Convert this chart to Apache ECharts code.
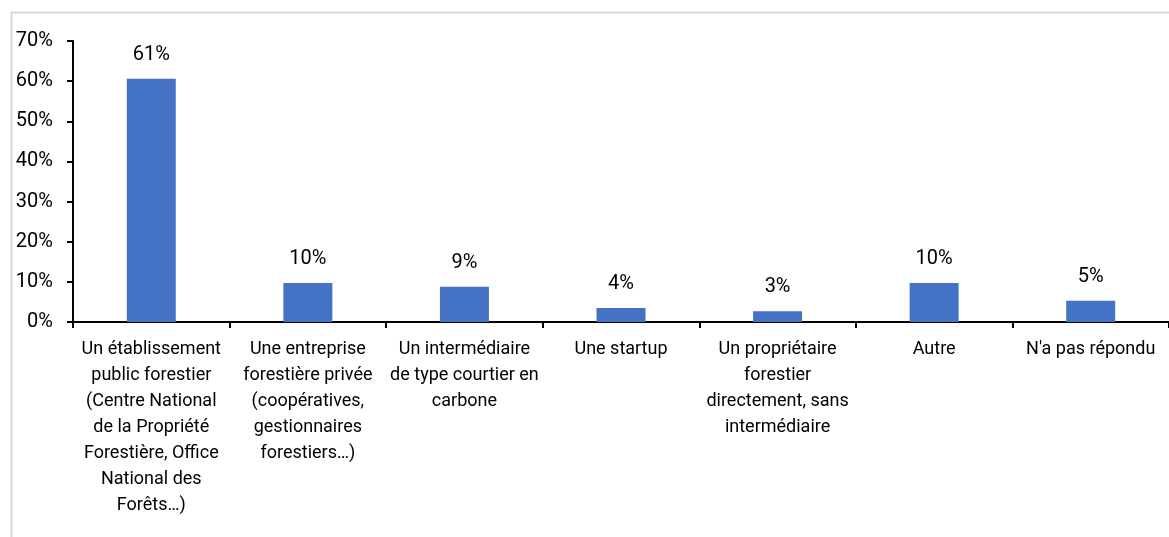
<!DOCTYPE html>
<html><head><meta charset="utf-8">
<script src="https://cdn.jsdelivr.net/npm/echarts@6/dist/echarts.min.js"></script>
<style>html,body{margin:0;padding:0;background:#fff}#c{width:1169px;height:537px}</style>
</head><body><div id="c"></div>
<script>
const categories = [
  "Un établissement\npublic forestier\n(Centre National\nde la Propriété\nForestière, Office\nNational des\nForêts…)",
  "Une entreprise\nforestière privée\n(coopératives,\ngestionnaires\nforestiers…)",
  "Un intermédiaire\nde type courtier en\ncarbone",
  "Une startup",
  "Un propriétaire\nforestier\ndirectement, sans\nintermédiaire",
  "Autre",
  "N'a pas répondu"
];
const values = [60.6, 9.7, 8.8, 3.5, 2.7, 9.7, 5.3];
const labels = ["61%", "10%", "9%", "4%", "3%", "10%", "5%"];
const yTicks = [0, 10, 20, 30, 40, 50, 60, 70];

const FONT = 'Roboto, "Noto Sans", sans-serif';
const chart = echarts.init(document.getElementById('c'), null, {renderer: 'canvas'});
chart.setOption({
  animation: false,
  backgroundColor: '#fff',
  graphic: [{
    type: 'rect', left: 9, top: 10, z: -1,
    shape: {width: 1200, height: 600},
    style: {fill: 'none', stroke: '#d9d9d9', lineWidth: 2}
  }],
  grid: {left: 73, width: 1105, top: 41, bottom: 215, containLabel: false},
  xAxis: {
    type: 'category',
    data: categories,
    boundaryGap: true,
    axisLine: {lineStyle: {color: '#000', width: 2}},
    axisTick: {show: true, length: 6, lineStyle: {color: '#000', width: 2}},
    axisLabel: {
      interval: 0, margin: 14, color: '#000',
      fontFamily: FONT, fontSize: 18, lineHeight: 26, align: 'center'
    }
  },
  yAxis: {
    type: 'value', min: 0, max: 70, interval: 10,
    splitLine: {show: false},
    axisLine: {show: true, lineStyle: {color: '#000', width: 2}},
    axisTick: {show: true, length: 6, lineStyle: {color: '#000', width: 2}},
    axisLabel: {
      margin: 20, color: '#000', fontFamily: FONT, fontSize: 20,
      formatter: v => yTicks.includes(v) ? v + '%' : ''
    }
  },
  series: [{
    type: 'bar',
    data: values,
    barWidth: 49,
    itemStyle: {color: '#4472C4'},
    label: {
      show: true, position: 'top', distance: 14,
      color: '#000', fontFamily: FONT, fontSize: 20,
      formatter: p => labels[p.dataIndex]
    }
  }]
});
</script></body></html>
